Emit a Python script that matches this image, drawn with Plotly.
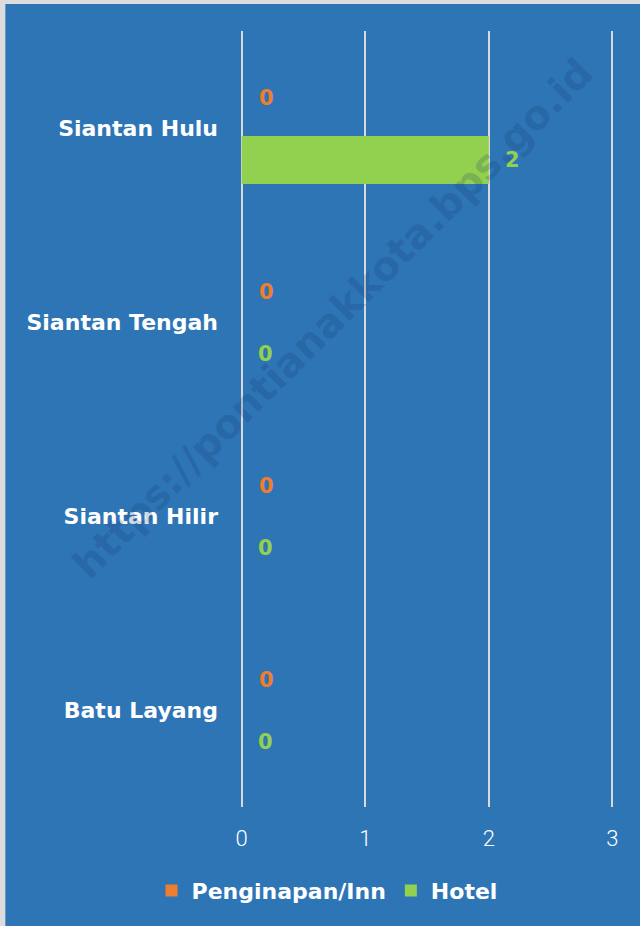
import plotly.graph_objects as go

categories = ["Siantan Hulu", "Siantan Tengah", "Siantan Hilir", "Batu Layang"]
inn_values = [0, 0, 0, 0]
hotel_values = [2, 0, 0, 0]
series_names = ["Penginapan/Inn", "Hotel"]
x_ticks = [0, 1, 2, 3]

BLUE = "#2E75B6"
ORANGE = "#ED7D31"
GREEN = "#92D050"
GRID = "#D9D9D9"
FONT_B = "DejaVu Sans"

W, H = 640, 926
UNIT = 370 / 3.0
PAD = 0.03
X0PX = 242
L = X0PX - PAD * UNIT
R = W - (612 + PAD * UNIT)
T, B = 31, 119
pw, ph = W - L - R, H - T - B

def px_x(px):
    return (px - L) / pw

def px_y(py):
    return (T + ph - py) / ph

fig = go.Figure()
fig.add_trace(go.Bar(y=categories, x=inn_values, orientation="h", name=series_names[0],
                     marker=dict(color=ORANGE, line=dict(width=0))))
fig.add_trace(go.Bar(y=categories, x=hotel_values, orientation="h", name=series_names[1],
                     marker=dict(color=GREEN, line=dict(width=0))))

annotations = []
for cat, v in zip(categories, inn_values):
    annotations.append(dict(x=v, y=cat, xref="x", yref="y", text=str(v), showarrow=False,
                            xanchor="left", yanchor="middle", xshift=15, yshift=30,
                            font=dict(family=FONT_B, size=21, color=ORANGE, weight="bold")))
for cat, v in zip(categories, hotel_values):
    annotations.append(dict(x=v, y=cat, xref="x", yref="y", text=str(v), showarrow=False,
                            xanchor="left", yanchor="middle", xshift=14, yshift=-32,
                            font=dict(family=FONT_B, size=21, color=GREEN, weight="bold")))

# watermark
annotations.append(dict(x=px_x(333), y=px_y(318), xref="paper", yref="paper",
                        xanchor="center", yanchor="middle",
                        text="https://pontianakkota.bps.go.id", showarrow=False, textangle=-45,
                        font=dict(family=FONT_B, size=40, color="rgba(20,50,100,0.2)", weight="bold")))

shapes = [dict(type="rect", xref="paper", yref="paper", layer="below",
               x0=px_x(6), x1=px_x(W) + 0.01,
               y0=px_y(H + 5), y1=px_y(4),
               fillcolor=BLUE, line=dict(width=0))]

fig.update_layout(
    width=W, height=H,
    margin=dict(l=L, r=R, t=T, b=B, pad=0),
    paper_bgcolor="#DCDCDC",
    plot_bgcolor="rgba(0,0,0,0)",
    barmode="group", bargap=0.34, bargroupgap=0.25,
    showlegend=True,
    legend=dict(orientation="h", xref="container", yref="container", x=0.511, y=0.038,
                xanchor="center", yanchor="middle",
                font=dict(family=FONT_B, size=22, color="white", weight="bold"),
                itemsizing="constant", traceorder="normal", bgcolor="rgba(0,0,0,0)"),
    xaxis=dict(range=[-PAD, 3 + PAD], tickvals=x_ticks, showgrid=True, gridcolor=GRID, gridwidth=1.5,
               zeroline=False, showline=False, ticks="", ticklabelstandoff=16,
               tickfont=dict(family="Roboto", size=22, color="white", weight=300), fixedrange=True),
    yaxis=dict(autorange="reversed", showgrid=False, zeroline=False, showline=False, ticks="",
               ticklabelstandoff=19, fixedrange=True,
               tickfont=dict(family=FONT_B, size=22, color="white", weight="bold")),
    annotations=annotations,
    shapes=shapes,
)

fig.write_html("out.html", config={"displayModeBar": False},
               post_script="document.body.style.margin='0';")
